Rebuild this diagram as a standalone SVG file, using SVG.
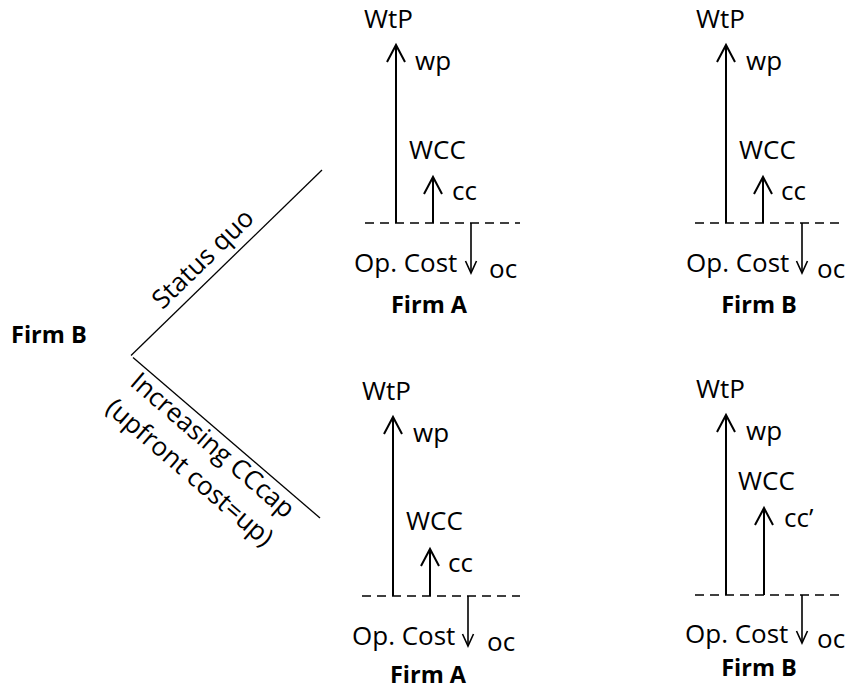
<svg xmlns="http://www.w3.org/2000/svg" width="848" height="690" viewBox="0 0 848 690">
<style>
text{font-family:"Open Sans","Liberation Sans",sans-serif;font-size:26px;fill:#000}
.b{font-weight:bold;font-size:23.5px}
.m{text-anchor:middle}
.ar{stroke:#000;stroke-width:2;fill:none;marker-end:url(#up)}
.dn{stroke:#000;stroke-width:1.6;fill:none;marker-end:url(#down)}
.ds{stroke:#000;stroke-width:1.5;stroke-dasharray:9 6;fill:none}
.br{stroke:#000;stroke-width:1.3;fill:none}
</style>
<defs>
<marker id="up" markerUnits="userSpaceOnUse" viewBox="-20 -12 24 24" refX="0" refY="0" markerWidth="24" markerHeight="24" orient="auto">
<path d="M-17,-9 L0,0 L-17,9" stroke="#000" stroke-width="2" fill="none"/>
</marker>
<marker id="down" markerUnits="userSpaceOnUse" viewBox="-16 -8 20 16" refX="0" refY="0" markerWidth="20" markerHeight="16" orient="auto">
<path d="M-12,-5.5 L0,0 L-12,5.5" stroke="#000" stroke-width="1.6" fill="none"/>
</marker>
</defs>
<g id="root-label"><text class="b" x="11" y="343">Firm B</text></g>
<g id="connectors">
<line class="br" x1="131" y1="355.5" x2="322" y2="170"/>
<line class="br" x1="133" y1="357.5" x2="320" y2="518"/>
<line class="ds" x1="365" y1="223" x2="520" y2="223"/>
<line class="ar" x1="396" y1="223" x2="396" y2="45"/>
<line class="ar" x1="433" y1="223" x2="433" y2="177"/>
<line class="dn" x1="471" y1="223" x2="471" y2="273"/>
<line class="ds" x1="695" y1="223" x2="843" y2="223"/>
<line class="ar" x1="726" y1="223" x2="726" y2="45"/>
<line class="ar" x1="763" y1="223" x2="763" y2="177"/>
<line class="dn" x1="802" y1="223" x2="802" y2="273"/>
<line class="ds" x1="362" y1="596" x2="520" y2="596"/>
<line class="ar" x1="393" y1="596" x2="393" y2="417"/>
<line class="ar" x1="430" y1="596" x2="430" y2="549"/>
<line class="dn" x1="468" y1="596" x2="468" y2="646"/>
<line class="ds" x1="695" y1="595" x2="843" y2="595"/>
<line class="ar" x1="726" y1="595" x2="726" y2="415"/>
<line class="ar" x1="764" y1="595" x2="764" y2="508"/>
<line class="dn" x1="802" y1="595" x2="802" y2="643"/>
</g>
<g id="branch-labels">
<text class="m" transform="translate(209,265) rotate(-44.2)">Status quo</text>
<text class="m" transform="translate(207,452) rotate(40.7)">Increasing CCcap</text>
<text class="m" transform="translate(184,479) rotate(40.7)">(upfront cost=up)</text>
</g>
<g id="panel-top-firmA">
<text x="364" y="28">WtP</text>
<text x="415" y="70">wp</text>
<text x="409" y="159">WCC</text>
<text x="452" y="200">cc</text>
<text x="354" y="272">Op. Cost</text>
<text x="489" y="278">oc</text>
<text class="b m" x="429" y="313">Firm A</text>
</g>
<g id="panel-top-firmB">
<text x="696" y="28">WtP</text>
<text x="746" y="70">wp</text>
<text x="739" y="159">WCC</text>
<text x="781" y="200">cc</text>
<text x="686" y="272">Op. Cost</text>
<text x="817" y="278">oc</text>
<text class="b m" x="759" y="313">Firm B</text>
</g>
<g id="panel-bottom-firmA">
<text x="362" y="400">WtP</text>
<text x="413" y="442">wp</text>
<text x="406" y="530">WCC</text>
<text x="448" y="572">cc</text>
<text x="352" y="645">Op. Cost</text>
<text x="487" y="651">oc</text>
<text class="b m" x="428" y="683">Firm A</text>
</g>
<g id="panel-bottom-firmB">
<text x="696" y="398">WtP</text>
<text x="746" y="440">wp</text>
<text x="738" y="490">WCC</text>
<text x="784" y="527">cc’</text>
<text x="685" y="643">Op. Cost</text>
<text x="817" y="648">oc</text>
<text class="b m" x="759" y="676">Firm B</text>
</g>
</svg>
